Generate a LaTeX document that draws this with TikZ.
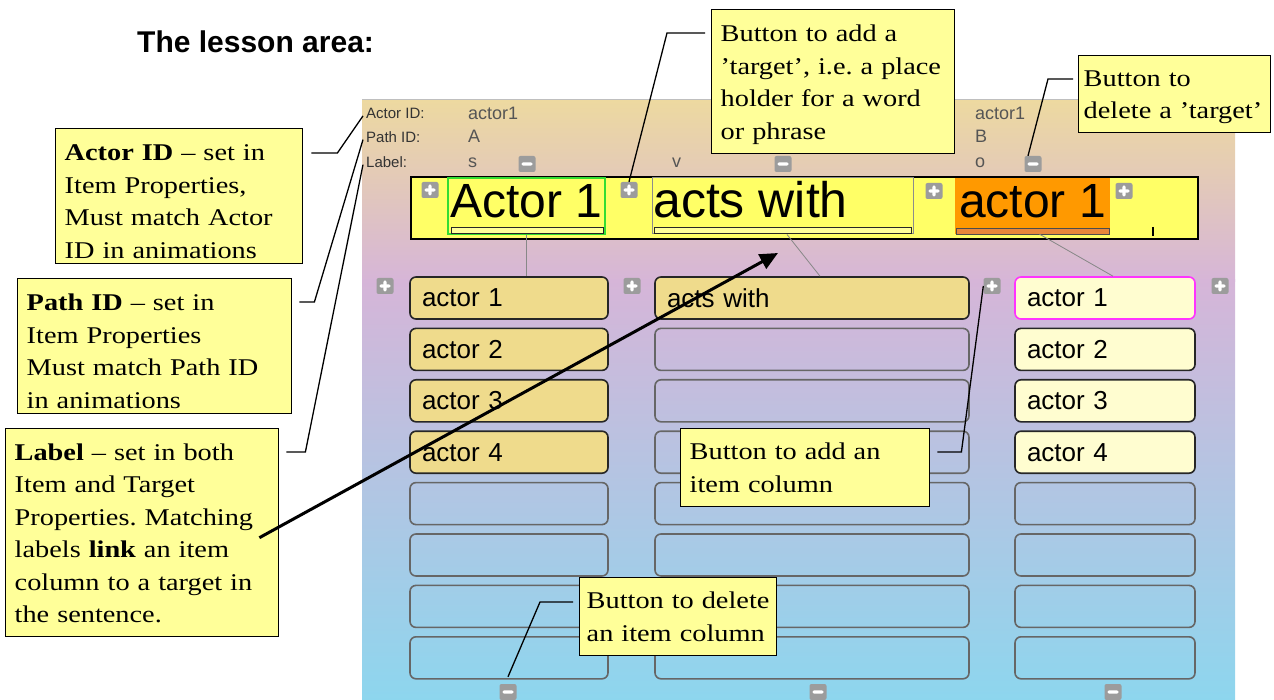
\documentclass[tikz,border=0pt]{standalone}
\usepackage{fontspec}
\setmainfont{Liberation Serif}
\setsansfont{Liberation Sans}
\newfontfamily\callfont[FakeStretch=1.18]{Liberation Serif}
\usetikzlibrary{calc,arrows.meta}
\frenchspacing
\definecolor{callbg}{HTML}{FFFF99}
\definecolor{baryel}{HTML}{FFFF66}
\definecolor{tanitem}{HTML}{EFDB8C}
\definecolor{lightitem}{HTML}{FFFDD0}
\definecolor{magborder}{HTML}{FF33FF}
\definecolor{orangetgt}{HTML}{FF9900}
\definecolor{orangeline}{HTML}{E8873A}
\definecolor{greenborder}{HTML}{33DD33}
\definecolor{btngray}{HTML}{9C9C9C}
\definecolor{bgtop}{HTML}{EDD9A0}
\definecolor{bgpink}{HTML}{D6B5D8}
\definecolor{bgmid}{HTML}{B2C4E4}
\definecolor{bgbot}{HTML}{8DD6EE}
\definecolor{hdrgray}{HTML}{333333}
\definecolor{valgray}{HTML}{555555}
\definecolor{emptyborder}{HTML}{666666}
\definecolor{linkgray}{HTML}{888888}
\tikzset{
  callout/.style={draw=black, line width=1.4pt, fill=callbg, anchor=north west,
    inner xsep=9pt, inner ysep=3pt, align=left,
    font=\callfont\fontsize{24}{32.5}\selectfont\frenchspacing},
  toppad/.style={execute at begin node={\rule{0pt}{#1}}},
  conn/.style={draw=black, line width=1.3pt},
  btn/.style={fill=btngray, rounded corners=2pt, minimum width=17pt, minimum height=16pt, inner sep=0pt},
  plusbtn/.style={btn, path picture={
      \fill[white] ($(path picture bounding box.center)+(-5.5pt,-1.7pt)$) rectangle ($(path picture bounding box.center)+(5.5pt,1.7pt)$);
      \fill[white] ($(path picture bounding box.center)+(-1.7pt,-5.5pt)$) rectangle ($(path picture bounding box.center)+(1.7pt,5.5pt)$);}},
  minusbtn/.style={btn, path picture={
      \fill[white] ($(path picture bounding box.center)+(-5.5pt,-1.7pt)$) rectangle ($(path picture bounding box.center)+(5.5pt,1.7pt)$);}},
  item/.style={rounded corners=6pt, line width=1.6pt, minimum height=42pt, inner xsep=12pt,
    text width=#1, align=left, font=\sffamily\fontsize{26}{26}\selectfont},
  filledA/.style={draw=black!85, fill=tanitem},
  filledB/.style={draw=black!85, fill=lightitem},
  emptyitem/.style={draw=emptyborder},
  target/.style={inner sep=0pt, minimum height=56pt, text height=34pt, text depth=0pt,
    font=\sffamily\fontsize{48}{48}\selectfont},
  uline/.style={line width=1pt, draw=black!85, inner sep=0pt, minimum height=6pt},
  hdr/.style={anchor=base west, text=hdrgray, font=\sffamily\fontsize{15}{15}\selectfont, inner sep=0pt},
  val/.style={anchor=base west, text=valgray, font=\sffamily\fontsize{18}{18}\selectfont, inner sep=0pt},
  linkline/.style={draw=linkgray, line width=0.8pt}
}
\begin{document}
\begin{tikzpicture}[x=1pt,y=-1pt]
\useasboundingbox (0,0) rectangle (1274,700);
% background of the lesson area
\shade[top color=bgtop, bottom color=bgpink] (362,100) rectangle (1235,282);
\shade[top color=bgpink, middle color=bgmid, bottom color=bgbot] (362,280) rectangle (1235,700);
\draw[black!25, line width=1pt] (362,100) -- (1235,100);

% title
\node[anchor=base west, inner sep=0pt, font=\sffamily\bfseries\fontsize{30}{30}\selectfont] (title) at (137,53) {The lesson area:};

% header labels
\node[hdr] (hdrA) at (366,119) {Actor ID:};
\node[hdr] (hdrP) at (366,143) {Path ID:};
\node[hdr] (hdrL) at (366,168) {Label:};
\node[val] (v1a) at (468,120) {actor1};
\node[val] (v1p) at (468,143) {A};
\node[val] (v1l) at (468,168) {s};
\node[val] (v2l) at (672,168) {v};
\node[val] (v3a) at (975,120) {actor1};
\node[val] (v3p) at (975,143) {B};
\node[val] (v3l) at (975,168) {o};
\node[minusbtn] (mb1) at (527,164) {};
\node[minusbtn] (mb2) at (783,164) {};
\node[minusbtn] (mb3) at (1033,164) {};

% sentence bar
\node[draw=black, line width=2pt, fill=baryel, anchor=north west, inner sep=0pt,
      minimum width=787pt, minimum height=62pt] (bar) at (410,176) {};
\node[target, draw=greenborder, line width=1.3pt, fill=baryel, minimum width=157pt] (t1) at (526.5,206) {\raisebox{5pt}{Actor 1}};
\node[target, draw=black!45, line width=1pt, fill=baryel, minimum width=261pt,
      font=\sffamily\fontsize{50}{50}\selectfont] (t2) at (782.5,206) {\raisebox{5pt}{acts with\hspace{64pt}}};
\node[target, fill=orangetgt, minimum width=155pt] (t3) at (1032.5,206) {\raisebox{5pt}{actor 1}};
\node[uline, fill=callbg, minimum width=152pt] (u1) at (527,231) {};
\node[uline, fill=callbg, minimum width=257pt] (u2) at (782.5,231) {};
\node[uline, fill=orangeline, draw=black!70, minimum width=153pt] (u3) at (1032.5,231.5) {};
\coordinate (tick) at (1153,227);
\draw[black, line width=2pt] (tick) -- ++(0,9);
\node[plusbtn] (tp1) at (430,190) {};
\node[plusbtn] (tp2) at (629,190) {};
\node[plusbtn] (tp3) at (934,191) {};
\node[plusbtn] (tp4) at (1124,191) {};

% item columns
\foreach \i/\txt in {1/actor 1,2/actor 2,3/actor 3,4/actor 4} {
  \pgfmathsetmacro\cy{298+51.4*(\i-1)}
  \node[item=174pt, filledA] (c1r\i) at (509,\cy) {\txt};
}
\foreach \i in {5,...,8} {
  \pgfmathsetmacro\cy{298+51.4*(\i-1)}
  \node[item=174pt, emptyitem] (c1r\i) at (509,\cy) {};
}
\node[item=290pt, filledA] (c2r1) at (812,298) {acts with};
\foreach \i in {2,...,8} {
  \pgfmathsetmacro\cy{298+51.4*(\i-1)}
  \node[item=290pt, emptyitem] (c2r\i) at (812,\cy) {};
}
\node[item=156pt, draw=magborder, fill=lightitem] (c3r1) at (1105,298) {actor 1};
\foreach \i/\txt in {2/actor 2,3/actor 3,4/actor 4} {
  \pgfmathsetmacro\cy{298+51.4*(\i-1)}
  \node[item=156pt, filledB] (c3r\i) at (1105,\cy) {\txt};
}
\foreach \i in {5,...,8} {
  \pgfmathsetmacro\cy{298+51.4*(\i-1)}
  \node[item=156pt, emptyitem] (c3r\i) at (1105,\cy) {};
}
\node[plusbtn] (cp1) at (385,286) {};
\node[plusbtn] (cp2) at (632,286) {};
\node[plusbtn] (cp3) at (992,286) {};
\node[plusbtn] (cp4) at (1220,286) {};
\node[minusbtn] (bm1) at (508,692) {};
\node[minusbtn] (bm2) at (818,692) {};
\node[minusbtn] (bm3) at (1113,692) {};

% links between targets and columns
\draw[linkline] (t1.south) -- (t1.south |- c1r1.north);
\draw[linkline] ([xshift=4.5pt]t2.south) -- ([xshift=8pt]c2r1.north);
\draw[linkline] ([xshift=7pt]t3.south) -- ([xshift=8pt]c3r1.north);

% callouts
\node[callout, toppad=27pt, text width=229pt, minimum height=135pt] (A) at (55,128)
  {\mbox{{\bfseries Actor ID} – set in}\\\mbox{Item Properties,}\\\mbox{Must match Actor}\\\mbox{ID in animations}};
\node[callout, toppad=27pt, text width=256pt, minimum height=135pt] (P) at (17,278)
  {\mbox{{\bfseries Path ID} – set in}\\\mbox{Item Properties}\\\mbox{Must match Path ID}\\\mbox{in animations}};
\node[callout, toppad=18pt, text width=255pt, minimum height=208pt] (L) at (5,428)
  {\mbox{{\bfseries Label} – set in both}\\\mbox{Item and Target}\\\mbox{Properties. Matching}\\\mbox{labels {\bfseries link} an item}\\\mbox{column to a target in}\\\mbox{the sentence.}};
\node[callout, toppad=23pt, text width=225pt, minimum height=144pt] (T1) at (711,9)
  {\mbox{Button to add a}\\\mbox{’target’, i.e. a place}\\\mbox{holder for a word}\\\mbox{or phrase}};
\node[callout, toppad=22pt, inner xsep=5pt, text width=182pt, minimum height=77pt] (T2) at (1078,55)
  {\mbox{Button to}\\\mbox{delete a ’target’}};
\node[callout, text width=231pt, minimum height=78pt] (C1) at (680,428)
  {\mbox{Button to add an}\\\mbox{item column}};
\node[callout, inner xsep=7pt, text width=183pt, minimum height=78pt] (C2) at (579,577)
  {\mbox{Button to delete}\\\mbox{an item column}};

% callout connectors
\draw[conn] ($(A.north east)+(8,25)$) -- ++(26,0) -- ([xshift=-3pt,yshift=-2pt]hdrA.west);
\draw[conn] ($(P.north east)+(7,24)$) -- ++(15,0) -- ([xshift=-3pt,yshift=-2pt]hdrP.west);
\draw[conn] ($(L.north east)+(7,24)$) -- ++(19,0) -- ([xshift=-3pt,yshift=-2pt]hdrL.west);
\draw[conn] ($(T1.north west)+(-6,24)$) -- ++(-38,0) -- (tp2.north);
\draw[conn] ($(T2.north west)+(-5,24)$) -- ++(-25,0) -- ([xshift=-5pt]mb3.north);
\draw[conn] ($(C1.north east)+(7,24)$) -- ++(24,0) -- (cp3.west);
\draw[conn] ($(C2.north west)+(-6,25)$) -- ++(-33,0) -- ([yshift=7pt]bm1.north);

% big arrow from the Label callout to the sentence
\coordinate (arrowtip) at (778,253);
\draw[black, line width=3pt, -{Triangle[length=18pt,width=16pt]}] ([xshift=-20pt,yshift=-5pt]L.east) -- (arrowtip);
\end{tikzpicture}
\end{document}
